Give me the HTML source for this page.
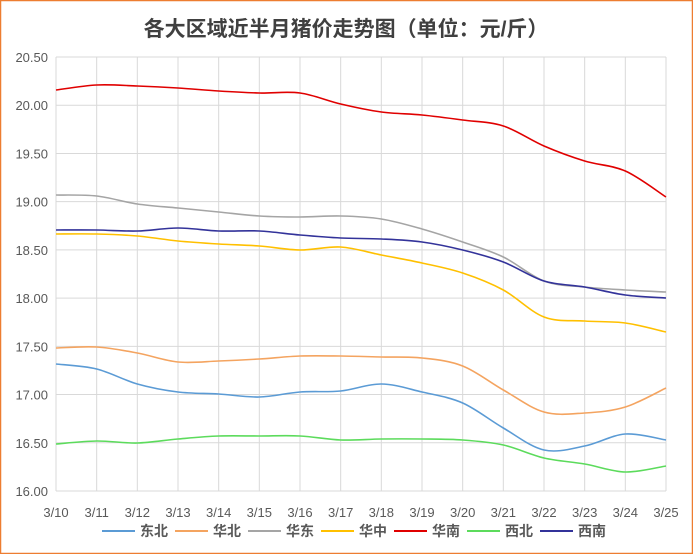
<!DOCTYPE html>
<html><head><meta charset="utf-8"><style>
body{margin:0;background:#fff}
svg text{font-family:"Liberation Sans","Noto Sans CJK SC",sans-serif;fill:#595959}
</style></head><body>
<svg width="693" height="554" viewBox="0 0 693 554" xmlns="http://www.w3.org/2000/svg">
<rect x="0.5" y="0.5" width="692" height="553" fill="#fff" stroke="#ED7D31" stroke-width="1.5"/>
<text x="346" y="36" text-anchor="middle" font-size="21" font-weight="bold" style="fill:#404040">各大区域近半月猪价走势图（单位：元/斤）</text>
<g id="grid" stroke="#d9d9d9" stroke-width="1"></g>
<g id="lbl" font-size="13"></g>
<g id="series" fill="none" stroke-width="1.6"></g>
<g font-size="14" font-weight="bold">
<line x1="102" y1="531" x2="135" y2="531" stroke="#5B9BD5" stroke-width="2"/><text x="140" y="536">东北</text>
<line x1="175" y1="531" x2="208" y2="531" stroke="#F4A460" stroke-width="2"/><text x="213" y="536">华北</text>
<line x1="248" y1="531" x2="281" y2="531" stroke="#A5A5A5" stroke-width="2"/><text x="286" y="536">华东</text>
<line x1="321" y1="531" x2="354" y2="531" stroke="#FFC000" stroke-width="2"/><text x="359" y="536">华中</text>
<line x1="394" y1="531" x2="427" y2="531" stroke="#E00000" stroke-width="2"/><text x="432" y="536">华南</text>
<line x1="467" y1="531" x2="500" y2="531" stroke="#5CDB5C" stroke-width="2"/><text x="505" y="536">西北</text>
<line x1="540" y1="531" x2="573" y2="531" stroke="#33339A" stroke-width="2"/><text x="578" y="536">西南</text>
</g>
</svg>
<script>
const ns="http://www.w3.org/2000/svg";
const L=56,R=666,T=57,B=491;
const g=document.getElementById('grid'),lb=document.getElementById('lbl'),s=document.getElementById('series');
function el(p,t,a,txt){const e=document.createElementNS(ns,t);for(const k in a)e.setAttribute(k,a[k]);if(txt)e.textContent=txt;p.appendChild(e);return e;}
for(let i=0;i<=9;i++){const y=B-(B-T)*i/9;el(g,'line',{x1:L,x2:R,y1:y,y2:y});el(lb,'text',{x:L-8,y:y+5,'text-anchor':'end'},(16+i*0.5).toFixed(2));}
const dx=(R-L)/15;
for(let i=0;i<16;i++){const x=L+dx*i;el(g,'line',{x1:x,x2:x,y1:T,y2:B});el(lb,'text',{x:x,y:B+26,'text-anchor':'middle'},'3/'+(10+i));}
const D=[
['#E00000',[90,85,86,88,91,93,93,104,112,115,120,126,146,161,171,197]],
['#A5A5A5',[195,196,204,208,212,216,217,216,219,229,242,257,281,287,290,292]],
['#33339A',[230,230,231,228,231,231,235,238,239,242,250,262,281,287,295,298]],
['#FFC000',[234,234,236,241,244,246,250,247,255,263,273,290,317,321,323,332]],
['#F4A460',[348,347,353,362,361,359,356,356,357,358,366,390,412,413,407,388]],
['#5B9BD5',[364,369,384,392,394,397,392,391,384,392,403,428,450,446,434,440]],
['#5CDB5C',[444,441,443,439,436,436,436,440,439,439,440,445,458,464,472,466]]];
D.forEach(([c,ys])=>{const p=ys.map((y,i)=>[L+dx*i,y]);let d='M'+p[0];
for(let i=0;i<p.length-1;i++){const p0=p[i-1]||p[i],p1=p[i],p2=p[i+1],p3=p[i+2]||p2;
const c1=[p1[0]+(p2[0]-p0[0])/6,p1[1]+(p2[1]-p0[1])/6],c2=[p2[0]-(p3[0]-p1[0])/6,p2[1]-(p3[1]-p1[1])/6];
d+='C'+c1+' '+c2+' '+p2;}
el(s,'path',{d:d,stroke:c});});
</script>
</body></html>
